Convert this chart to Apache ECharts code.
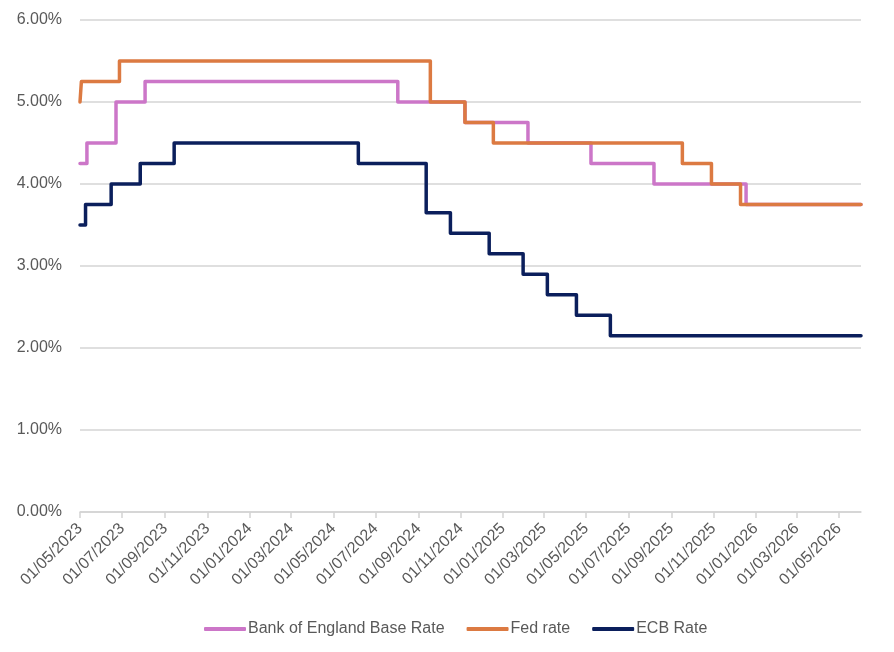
<!DOCTYPE html>
<html>
<head>
<meta charset="utf-8">
<script src="https://cdn.jsdelivr.net/npm/echarts@6/dist/echarts.min.js"></script>
<style>
html,body{margin:0;padding:0;background:#fff;}
#chart{width:894px;height:652px;}
</style>
</head>
<body>
<div id="chart"></div>
<script>
// Step-change dates and the rate in force from that date
const boeDates  = ['2023-05-01','2023-05-11','2023-06-22','2023-08-03','2024-08-02','2024-11-07','2025-02-06','2025-05-08','2025-08-07','2025-12-18','2026-06-02'];
const boeRates  = [4.25, 4.50, 5.00, 5.25, 5.00, 4.75, 4.50, 4.25, 4.00, 3.75, 3.75];

const fedDates  = ['2023-05-01','2023-05-03','2023-06-27','2024-09-18','2024-11-07','2024-12-18','2025-09-17','2025-10-29','2025-12-10','2026-06-02'];
const fedRates  = [5.00, 5.25, 5.50, 5.00, 4.75, 4.50, 4.25, 4.00, 3.75, 3.75];

const ecbDates  = ['2023-05-01','2023-05-09','2023-06-15','2023-07-27','2023-09-14','2024-06-06','2024-09-12','2024-10-17','2024-12-12','2025-01-30','2025-03-06','2025-04-17','2025-06-05','2026-06-02'];
const ecbRates  = [3.50, 3.75, 4.00, 4.25, 4.50, 4.25, 3.65, 3.40, 3.15, 2.90, 2.65, 2.40, 2.15, 2.15];

const tickLabels = ['01/05/2023','01/07/2023','01/09/2023','01/11/2023','01/01/2024','01/03/2024','01/05/2024','01/07/2024','01/09/2024','01/11/2024','01/01/2025','01/03/2025','01/05/2025','01/07/2025','01/09/2025','01/11/2025','01/01/2026','01/03/2026','01/05/2026'];
const yTicks = [0, 1, 2, 3, 4, 5, 6];

const seriesNames = ['Bank of England Base Rate', 'Fed rate', 'ECB Rate'];
const colors = ['#CC76C8', '#DC7A42', '#0B1F5C'];

function parseIso(s){ const p = s.split('-').map(Number); return Date.UTC(p[0], p[1]-1, p[2]); }
function parseDmy(s){ const p = s.split('/').map(Number); return Date.UTC(p[2], p[1]-1, p[0]); }
function pad(n){ return (n<10?'0':'')+n; }
function fmt(v){ const d = new Date(v); return pad(d.getUTCDate())+'/'+pad(d.getUTCMonth()+1)+'/'+d.getUTCFullYear(); }

const tickValues = tickLabels.map(parseDmy);
const zip = (ds, vs) => ds.map((d,i)=>[parseIso(d), vs[i]]);

const chart = echarts.init(document.getElementById('chart'), null, {renderer:'canvas'});
const font = 'Liberation Sans, Arial, sans-serif';

function mk(name, data, color){
  return {
    name, type:'line', step:'end', data, showSymbol:false, symbol:'none',
    lineStyle:{color, width:3.5, join:'round', cap:'round'},
    itemStyle:{color}, animation:false
  };
}

chart.setOption({
  animation:false,
  color: colors,
  grid:{left:80, right:33, top:20, bottom:140, containLabel:false},
  xAxis:{
    type:'value',
    min: parseIso('2023-05-01'),
    max: parseIso('2026-06-02'),
    axisLine:{show:true, lineStyle:{color:'#D4D4D4', width:1.5}},
    axisTick:{show:true, length:6, lineStyle:{color:'#D4D4D4', width:1.5}, customValues: tickValues},
    splitLine:{show:false},
    axisLabel:{
      customValues: tickValues,
      rotate:45, margin:14, color:'#595959', fontSize:16, fontFamily:font,
      formatter: v => fmt(v)
    }
  },
  yAxis:{
    type:'value', min:yTicks[0], max:yTicks[yTicks.length-1], interval:1,
    axisLine:{show:false}, axisTick:{show:false},
    splitLine:{show:true, lineStyle:{color:'#D4D4D4', width:1.5}},
    axisLabel:{color:'#595959', fontSize:16, fontFamily:font, margin:18, formatter: v => v.toFixed(2)+'%'}
  },
  legend:{
    data: seriesNames,
    left:199, top:616,
    icon:'roundRect', itemWidth:42, itemHeight:4, itemGap:22,
    textStyle:{color:'#595959', fontSize:16, fontFamily:font, padding:[0,0,0,-3]}
  },
  series:[
    mk(seriesNames[0], zip(boeDates, boeRates), colors[0]),
    mk(seriesNames[1], zip(fedDates, fedRates), colors[1]),
    mk(seriesNames[2], zip(ecbDates, ecbRates), colors[2])
  ]
});
</script>
</body>
</html>
